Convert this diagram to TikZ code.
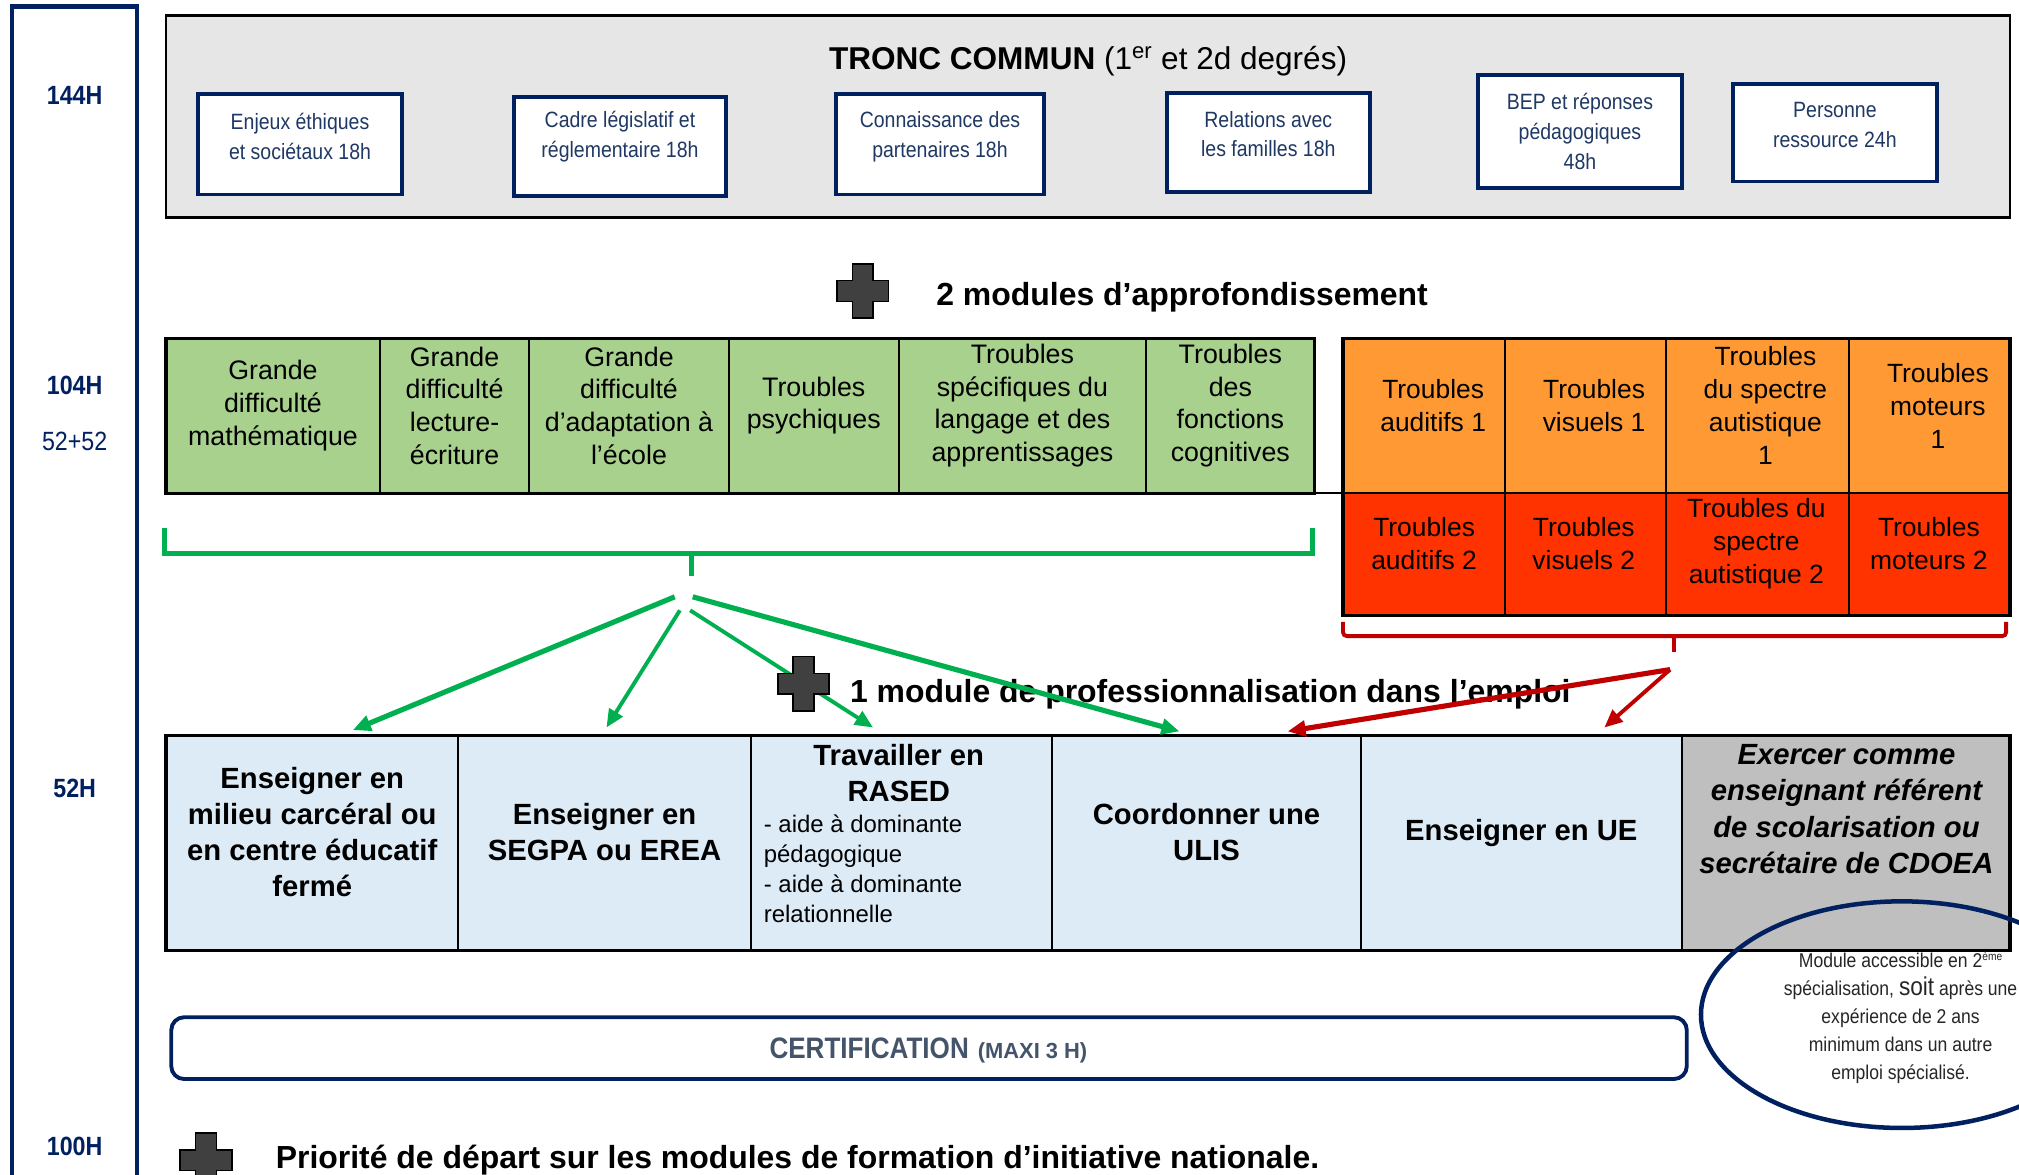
\documentclass[tikz,border=0pt]{standalone}
\usepackage{fontspec}
\setmainfont{Liberation Sans}
\newfontfamily\narrowfont{Liberation Sans}[FakeStretch=0.88]
\usetikzlibrary{arrows.meta,shapes.geometric}
\definecolor{navy}{HTML}{002060}
\definecolor{navytext}{HTML}{1F3864}
\definecolor{troncgray}{HTML}{E7E6E6}
\definecolor{greenfill}{HTML}{A9D18E}
\definecolor{greenline}{HTML}{00B050}
\definecolor{orangefill}{HTML}{FF9933}
\definecolor{redfill}{HTML}{FF3300}
\definecolor{darkred}{HTML}{C00000}
\definecolor{bluefill}{HTML}{DDEBF7}
\definecolor{grayfill}{HTML}{BFBFBF}
\definecolor{plusgray}{HTML}{404040}
\definecolor{certtext}{HTML}{44546A}
\begin{document}
\begin{tikzpicture}[x=1pt,y=-1pt,
  cellbox/.style={rectangle, draw=black, line width=1.5pt, inner sep=0pt, outer sep=0pt},
  smallbox/.style={rectangle, draw=navy, line width=3pt, fill=white, inner sep=0pt, outer sep=0pt},
  boxtext/.style={font=\narrowfont\fontsize{17.2}{23}\selectfont, text=navytext, align=center, inner sep=0pt},
  hourlabel/.style={font=\narrowfont\bfseries\fontsize{20.5}{24}\selectfont, text=navy, inner sep=0pt},
  gtext/.style={font=\fontsize{20.8}{25.4}\selectfont, align=center, inner sep=0pt},
  otext/.style={font=\fontsize{20.5}{25.6}\selectfont, align=center, inner sep=0pt},
  mtext/.style={font=\bfseries\fontsize{22.7}{28}\selectfont, align=center, inner sep=0pt},
  headline/.style={font=\bfseries\fontsize{24.8}{29}\selectfont, inner sep=0pt, anchor=west},
  garrow/.style={draw=greenline, line width=#1, -{Triangle[length=14pt,width=12pt]}},
  rarrow/.style={draw=darkred, line width=#1, -{Triangle[length=14pt,width=12pt]}},
  plus/.pic={\path[fill=plusgray, draw=black, line width=1.2pt]
     (-8,-21) -- (8,-21) -- (8,-8) -- (20,-8) -- (20,8) -- (8,8) -- (8,21)
     -- (-8,21) -- (-8,8) -- (-20,8) -- (-20,-8) -- (-8,-8) -- cycle;}
]
\useasboundingbox (0,0) rectangle (1568,912.5);
\fill[white] (0,0) rectangle (1568,912.5);
\clip (0,0) rectangle (1568,912.5);

% left column
\node[rectangle, draw=navy, line width=3.5pt, minimum width=97pt, minimum height=960pt, inner sep=0pt] (col) at (58,485) {};
\node[hourlabel] (l144) at (58,74) {144H};
\node[hourlabel] (l104) at (58,299) {104H};
\node[hourlabel, font=\narrowfont\fontsize{20.5}{24}\selectfont] (l5252) at (58,343) {52+52};
\node[hourlabel] (l52) at (58,612) {52H};
\node[hourlabel] (l100) at (58,890) {100H};

% tronc commun
\node[rectangle, draw=black, line width=2pt, fill=troncgray, minimum width=1432pt, minimum height=157pt, inner sep=0pt] (tronc) at (845,90.5) {};
\node[font=\fontsize{24.5}{29}\selectfont, inner sep=0pt] (title) at (845,47.5) {\textbf{TRONC COMMUN} (1\textsuperscript{er} et 2d degrés)};

\node[smallbox, minimum width=158pt, minimum height=78pt] (b1) at (233,112) {};
\node[boxtext] (b1t) at (233,106) {Enjeux éthiques\\et sociétaux 18h};
\node[smallbox, minimum width=165pt, minimum height=77pt] (b2) at (481.5,113.5) {};
\node[boxtext] (b2t) at (481.5,106) {Cadre législatif et\\réglementaire 18h};
\node[smallbox, minimum width=162pt, minimum height=78pt] (b3) at (730,112) {};
\node[boxtext] (b3t) at (730,106) {Connaissance des\\partenaires 18h};
\node[smallbox, minimum width=158pt, minimum height=77pt] (b4) at (985,110.5) {};
\node[boxtext] (b4t) at (985,104) {Relations avec\\les familles 18h};
\node[smallbox, minimum width=158pt, minimum height=88pt] (b5) at (1227,102) {};
\node[boxtext] (b5t) at (1227,102) {BEP et réponses\\pédagogiques\\48h};
\node[smallbox, minimum width=158pt, minimum height=76pt] (b6) at (1425,103) {};
\node[boxtext] (b6t) at (1425,97) {Personne\\ressource 24h};

% 2 modules
\pic (plus1) at (670,226) {plus};
\node[headline] (h2) at (727,230.5) {2 modules d’approfondissement};

% green row
\node[cellbox, fill=greenfill, minimum width=166pt, minimum height=120pt] (g1) at (212,323) {};
\node[cellbox, fill=greenfill, minimum width=116pt, minimum height=120pt] (g2) at (353,323) {};
\node[cellbox, fill=greenfill, minimum width=155pt, minimum height=120pt] (g3) at (488.5,323) {};
\node[cellbox, fill=greenfill, minimum width=132pt, minimum height=120pt] (g4) at (632,323) {};
\node[cellbox, fill=greenfill, minimum width=192pt, minimum height=120pt] (g5) at (794,323) {};
\node[cellbox, fill=greenfill, minimum width=131pt, minimum height=120pt] (g6) at (955.5,323) {};
\draw[line width=2.5pt] (g1.north west) rectangle (g6.south east);
\node[gtext] (g1t) at (212,315) {Grande\\difficulté\\mathématique};
\node[gtext] (g2t) at (353,315) {Grande\\difficulté\\lecture-\\écriture};
\node[gtext] (g3t) at (488.5,315) {Grande\\difficulté\\d’adaptation à\\l’école};
\node[gtext] (g4t) at (632,315) {Troubles\\psychiques};
\node[gtext] (g5t) at (794,315) {Troubles\\spécifiques du\\langage et des\\apprentissages};
\node[gtext] (g6t) at (955.5,315) {Troubles\\des\\fonctions\\cognitives};

% orange / red rows
\node[cellbox, fill=orangefill, minimum width=126pt, minimum height=120pt] (o1) at (1106,323) {};
\node[cellbox, fill=orangefill, minimum width=125pt, minimum height=120pt] (o2) at (1231.5,323) {};
\node[cellbox, fill=orangefill, minimum width=142pt, minimum height=120pt] (o3) at (1365,323) {};
\node[cellbox, fill=orangefill, minimum width=125pt, minimum height=120pt] (o4) at (1498.5,323) {};
\node[cellbox, fill=redfill, minimum width=126pt, minimum height=95pt] (r1) at (1106,430.5) {};
\node[cellbox, fill=redfill, minimum width=125pt, minimum height=95pt] (r2) at (1231.5,430.5) {};
\node[cellbox, fill=redfill, minimum width=142pt, minimum height=95pt] (r3) at (1365,430.5) {};
\node[cellbox, fill=redfill, minimum width=125pt, minimum height=95pt] (r4) at (1498.5,430.5) {};
\draw[line width=2.5pt] (o1.north west) rectangle (r4.south east);
\draw[line width=1.5pt] (g6.south east) -- (o1.south west);
\node[otext] (o1t) at (1113,315) {Troubles\\auditifs 1};
\node[otext] (o2t) at (1238,315) {Troubles\\visuels 1};
\node[otext] (o3t) at (1371,315) {Troubles\\du spectre\\autistique\\1};
\node[otext] (o4t) at (1505,315) {Troubles\\moteurs\\1};
\node[otext] (r1t) at (1106,422) {Troubles\\auditifs 2};
\node[otext] (r2t) at (1230,422) {Troubles\\visuels 2};
\node[otext] (r3t) at (1364,422) {Troubles du\\spectre\\autistique 2};
\node[otext] (r4t) at (1498,422) {Troubles\\moteurs 2};

% brackets
\coordinate (gbl) at (128,410);
\coordinate (gbr) at (1019,410);
\coordinate (gbs) at (537,447);
\draw[greenline, line width=4pt] (gbl) -- (128,430) -- (1019,430) -- (gbr);
\draw[greenline, line width=4pt] (537,430) -- (gbs);
\coordinate (rbl) at (1043,483);
\coordinate (rbr) at (1558,483);
\coordinate (rbs) at (1300,506);
\draw[darkred, line width=3pt, rounded corners=3pt] (rbl) -- (1043,494) -- (1558,494) -- (rbr);
\draw[darkred, line width=3pt] (1300,494) -- (rbs);

% modules row
\node[cellbox, fill=bluefill, minimum width=227pt, minimum height=167pt] (m1) at (242.5,654.5) {};
\node[cellbox, fill=bluefill, minimum width=227pt, minimum height=167pt] (m2) at (469.5,654.5) {};
\node[cellbox, fill=bluefill, minimum width=234pt, minimum height=167pt] (m3) at (700,654.5) {};
\node[cellbox, fill=bluefill, minimum width=240pt, minimum height=167pt] (m4) at (937,654.5) {};
\node[cellbox, fill=bluefill, minimum width=249pt, minimum height=167pt] (m5) at (1181.5,654.5) {};
\node[cellbox, fill=grayfill, minimum width=255pt, minimum height=167pt] (m6) at (1433.5,654.5) {};
\draw[line width=2.5pt] (m1.north west) rectangle (m6.south east);
\node[mtext] (m1t) at (242.5,646) {Enseigner en\\milieu carcéral ou\\en centre éducatif\\fermé};
\node[mtext] (m2t) at (469.5,646) {Enseigner en\\SEGPA ou EREA};
\node[mtext] (m3t) at (698,600) {Travailler en\\RASED};
\node[anchor=west, align=left, inner sep=0pt, font=\fontsize{18.6}{23.2}\selectfont] (m3l) at (593,674.5) {- aide à dominante\\pédagogique\\- aide à dominante\\relationnelle};
\node[mtext] (m4t) at (937,646) {Coordonner une\\ULIS};
\node[mtext] (m5t) at (1181.5,647) {Enseigner en UE};
\node[mtext, font=\bfseries\itshape\fontsize{22.7}{28.3}\selectfont] (m6t) at (1434,628.5) {Exercer comme\\enseignant référent\\de scolarisation ou\\secrétaire de CDOEA};

% 1 module de professionnalisation
\node[headline] (h1) at (660,539.5) {1 module de professionnalisation dans l’emploi};

% arrows
\coordinate (gs1) at (524,463.5);
\coordinate (gs2) at (528,474);
\coordinate (gs3) at (536,474);
\coordinate (gs4) at (538,463.5);
\coordinate (ge1) at (274,567);
\coordinate (ge2) at (471,565);
\coordinate (ge3) at (678,565);
\coordinate (ge4) at (916,568);
\draw[garrow=4pt] (gs1) -- (ge1);
\draw[garrow=3pt] (gs2) -- (ge2);
\draw[garrow=3pt] (gs3) -- (ge3);
\draw[garrow=4pt] (gs4) -- (ge4);
\coordinate (rs) at (1297,520);
\coordinate (re1) at (1000,568);
\coordinate (re2) at (1246,565);
\draw[rarrow=4pt] (rs) -- (re1);
\draw[rarrow=3pt] (rs) -- (re2);
\pic (plus2) at (624,531) {plus};

% ellipse note
\node[ellipse, draw=navy, line width=3.5pt, minimum width=312pt, minimum height=176pt, inner sep=0pt] (ell) at (1477,788) {};
\node[font=\narrowfont\fontsize{15.5}{21.9}\selectfont, align=center, inner sep=0pt, text=black!85] (ellt) at (1476,790.5)
  {Module accessible en 2{\fontsize{9}{10}\selectfont\raisebox{0.6em}{ème}}\\spécialisation, {\fontsize{20}{21.9}\selectfont soit} après une\\expérience de 2 ans\\minimum dans un autre\\emploi spécialisé.};

% certification
\node[rectangle, draw=navy, line width=3pt, fill=white, rounded corners=10pt, minimum width=1177pt, minimum height=48pt, inner sep=0pt] (cert) at (721.5,814) {};
\node[font=\bfseries, text=certtext, inner sep=0pt] (certt) at (721,816) {{\narrowfont\fontsize{23}{27}\selectfont CERTIFICATION}\hspace{7pt}{\fontsize{17}{20}\selectfont (MAXI 3 H)}};

% bottom line
\pic (plus3) at (160,901) {plus};
\node[headline] (prio) at (214,901) {Priorité de départ sur les modules de formation d’initiative nationale.};
\end{tikzpicture}
\end{document}
